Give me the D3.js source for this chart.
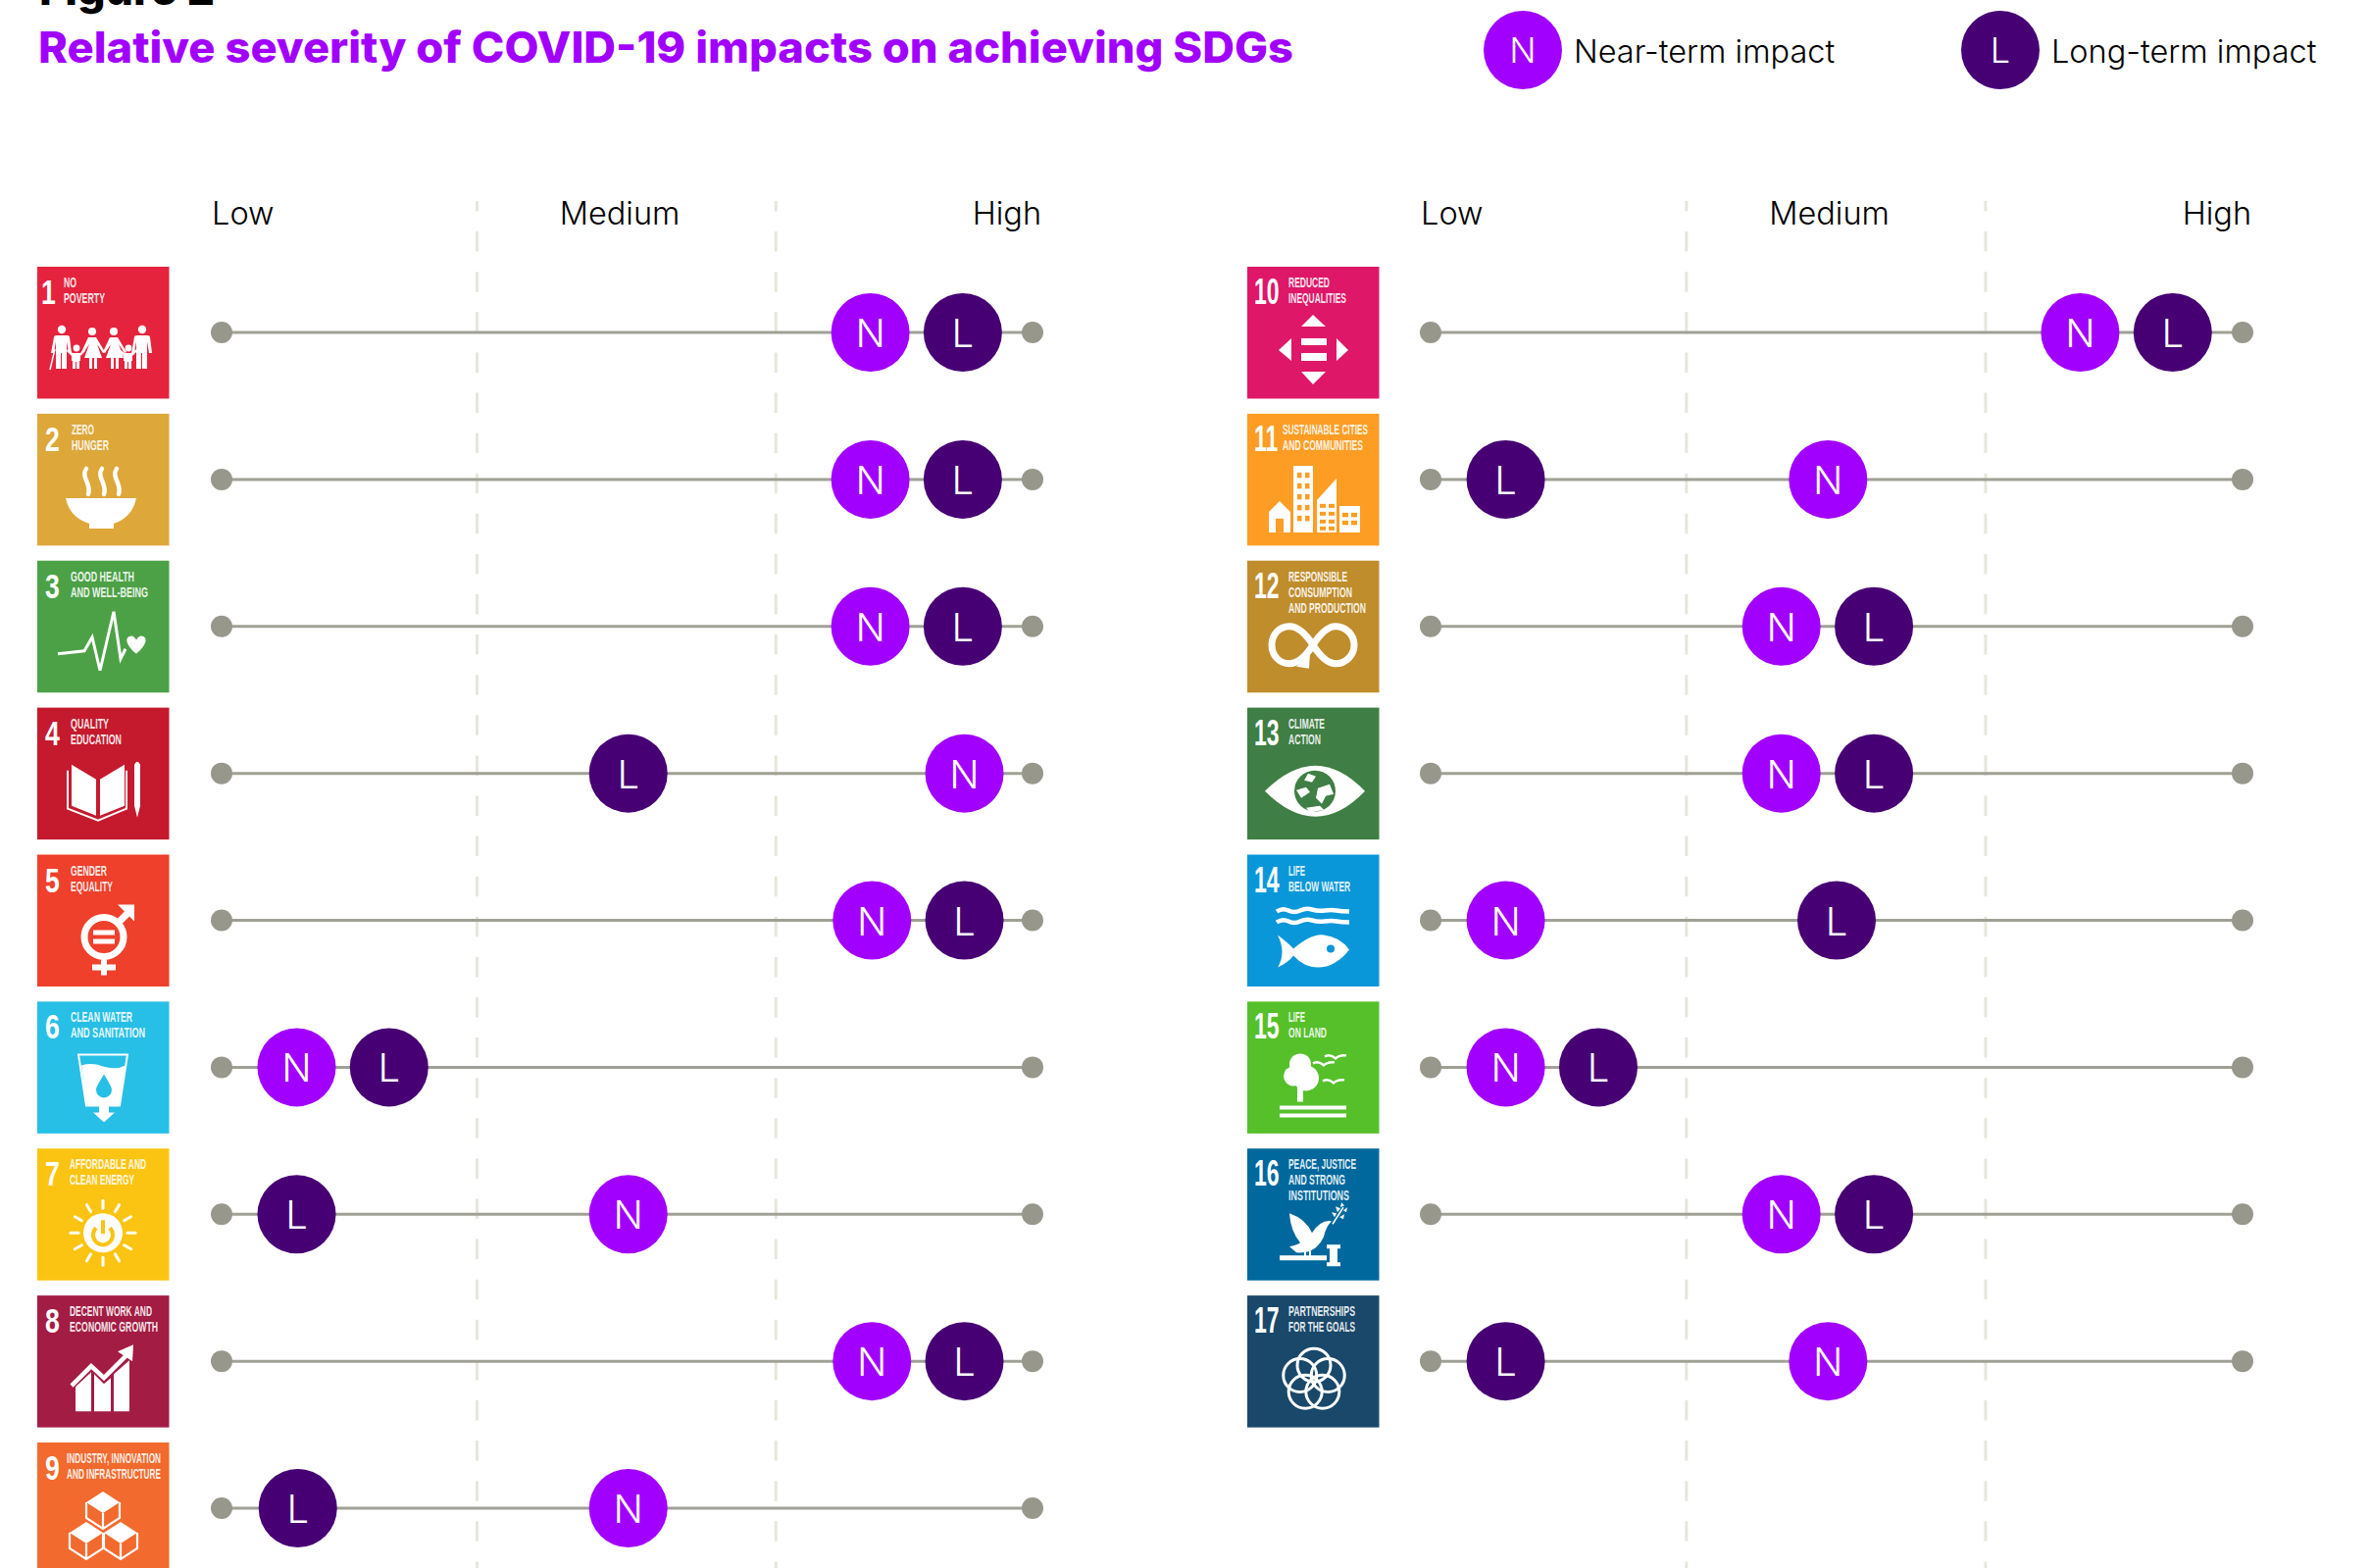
<!DOCTYPE html>
<html>
<head>
<meta charset="utf-8">
<script src="https://cdn.jsdelivr.net/npm/d3@7"></script>
<style>
  body { margin: 0; background: #fff; overflow: hidden; }
  text { font-family: Inter, "Noto Sans", sans-serif; }
  .tile text { font-family: "Liberation Sans Narrow", "Liberation Sans", sans-serif; font-weight: 700; fill: #fff; }
</style>
</head>
<body>
<svg></svg>
<script>
const width = 2418, height = 1599;

// Goals (0 = far left of the track, 100 = far right)
const goals = [1, 2, 3, 4, 5, 6, 7, 8, 9, 10, 11, 12, 13, 14, 15, 16, 17];
const nearTerm = [80, 80, 80, 91.6, 80.2, 9.25, 50.15, 80.2, 50.15, 80, 48.95, 43.2, 43.2, 9.25, 9.25, 43.2, 48.95];
const longTerm = [91.4, 91.4, 91.4, 50.15, 91.6, 20.65, 9.25, 91.6, 9.4, 91.4, 9.25, 54.6, 54.6, 50, 20.65, 54.6, 9.25];
const tileColors = ["#e5233d", "#dda73a", "#4ca146", "#c5192d", "#ef402c", "#27bfe6", "#fbc412", "#a31c44", "#f26a2d",
  "#de1768", "#fd9d24", "#bf8d2c", "#3f7e44", "#0a97d9", "#56c02b", "#00689d", "#19486a"];
const tileLabels = [
  ["NO", "POVERTY"], ["ZERO", "HUNGER"], ["GOOD HEALTH", "AND WELL-BEING"], ["QUALITY", "EDUCATION"],
  ["GENDER", "EQUALITY"], ["CLEAN WATER", "AND SANITATION"], ["AFFORDABLE AND", "CLEAN ENERGY"],
  ["DECENT WORK AND", "ECONOMIC GROWTH"], ["INDUSTRY, INNOVATION", "AND INFRASTRUCTURE"],
  ["REDUCED", "INEQUALITIES"], ["SUSTAINABLE CITIES", "AND COMMUNITIES"],
  ["RESPONSIBLE", "CONSUMPTION", "AND PRODUCTION"], ["CLIMATE", "ACTION"], ["LIFE", "BELOW WATER"],
  ["LIFE", "ON LAND"], ["PEACE, JUSTICE", "AND STRONG", "INSTITUTIONS"], ["PARTNERSHIPS", "FOR THE GOALS"]];
const labelWidths = [
  [13, 42], [23, 38], [65, 79], [39, 52], [37, 43], [63, 76], [78, 66], [84, 90], [96, 96],
  [42, 59], [87, 82], [60, 65, 79], [37, 33], [17, 63], [17, 39], [69, 58, 62], [68, 68]];
const labelStart = [27, 35, 34, 34, 34, 34, 33, 33, 30, 42, 36, 42, 42, 42, 42, 42, 42];
const levelLabels = ["Low", "Medium", "High"];
const levelAnchors = ["start", "middle", "end"];
const levelPositions = [-1.2, 49.1, 101.1];
const thresholds = [31.5, 68.35];
const legendItems = [
  { letter: "N", label: "Near-term impact", color: "#a100ff" },
  { letter: "L", label: "Long-term impact", color: "#460073" }];

const purple = "#a100ff", darkPurple = "#460073", grey = "#a0a095";

const svg = d3.select("svg").attr("width", width).attr("height", height);

// Both panels share the row positions
const rowScale = d3.scalePoint().domain(d3.range(9)).range([339, 1538]);
const panels = [
  { goals: goals.slice(0, 9), tileX: 38, x: d3.scaleLinear().domain([0, 100]).range([226, 1053]) },
  { goals: goals.slice(9), tileX: 1272, x: d3.scaleLinear().domain([0, 100]).range([1459, 2287]) }];

// Title block
svg.append("text").attr("x", 40).attr("y", 5).attr("font-size", 44).attr("font-weight", 800).attr("fill", "#000")
  .attr("textLength", 179).attr("lengthAdjust", "spacingAndGlyphs").text("Figure 2");
svg.append("text").attr("x", 39).attr("y", 64).attr("font-size", 44).attr("font-weight", 800).attr("fill", purple)
  .attr("textLength", 1280).attr("lengthAdjust", "spacingAndGlyphs")
  .text("Relative severity of COVID-19 impacts on achieving SDGs");

// Legend
const legendX = d3.scalePoint().domain(legendItems.map(d => d.letter)).range([1553, 2040]);
const legend = svg.append("g").selectAll("g").data(legendItems).join("g")
  .attr("transform", d => `translate(${legendX(d.letter)},51)`);
legend.append("circle").attr("r", 40).attr("fill", d => d.color);
legend.append("text").attr("text-anchor", "middle").attr("y", 13).attr("font-size", 36).attr("font-weight", 300)
  .attr("fill", "#fff").text(d => d.letter);
legend.append("text").attr("x", 52).attr("y", 13).attr("font-size", 32.5).attr("font-weight", 300)
  .attr("fill", "#000").text(d => d.label);

// ---- little helpers for the SDG pictograms, coordinates inside a 134px tile ----
const man = x => `<circle cx="${x}" cy="64" r="4.2"/><path d="M${x - 8} 72q0-2 3-2h10q3 0 3 2l2 16h-3l-2-12v28h-5v-16h-1v16h-5v-28l-2 12h-3z"/>`;
const woman = x => `<circle cx="${x}" cy="66" r="4"/><path d="M${x - 4} 72h8l9 15-2 1-6-9 5 14h-5v11h-3v-11h-2v11h-3v-11h-5l5-14-6 9-2-1z"/>`;
const child = x => `<circle cx="${x}" cy="83" r="3.4"/><path d="M${x - 4} 88h8l4-4 1 2-5 5v5h-1v8h-3v-7h-1v7h-3v-8h-1v-5l-5-5 1-2z"/>`;
const cube = (cx, top) => `<path d="M${cx} ${top}l17 11-17 11-17-11z"/><path fill="none" stroke="#fff" stroke-width="2.2" d="M${cx - 17} ${top + 11}v16l17 11 17-11v-16M${cx} ${top + 22}v16"/>`;
const windows = (xs, ys, w, h) => xs.map(x => ys.map(y => `<rect x="${x}" y="${y}" width="${w}" height="${h}" fill="currentColor"/>`).join("")).join("");
const rays = d3.range(12).map(i => {
  const a = i * Math.PI / 6;
  return `<path stroke="#fff" stroke-width="3" stroke-linecap="round" d="M${67 + 25 * Math.sin(a)} ${86 - 25 * Math.cos(a)}L${67 + 33 * Math.sin(a)} ${86 - 33 * Math.cos(a)}"/>`;
}).join("");
const rings = d3.range(5).map(i => {
  const a = i * 2 * Math.PI / 5;
  return `<circle cx="${68 + 15 * Math.sin(a)}" cy="${86 - 15 * Math.cos(a)}" r="17" fill="none" stroke="#fff" stroke-width="3"/>`;
}).join("");
const bird = (x, y) => `<path fill="none" stroke="#fff" stroke-width="2.4" d="M${x - 11} ${y}q6-3 11 2q4-4 11-3"/>`;

const pictograms = {
  1: man(25) + child(40) + woman(56) + woman(78) + child(93) + man(107) + '<path fill="none" stroke="#fff" stroke-width="1.5" d="M18 84l-5 21"/>',
  2: '<path d="M29 86H101Q97 106 78 112V117H53V112Q33 106 29 86Z"/><path fill="none" stroke="#fff" stroke-width="4.5" stroke-linecap="round" d="M50 56C44 65 56 72 52 82M66 56C60 65 72 72 68 82M81 56C75 65 87 72 83 82"/>',
  3: '<path fill="none" stroke="#fff" stroke-width="3" d="M21 95L48 92L56 78L64 112L78 52L85 100L90 90"/><path d="M101 95C90 86 89 78 95 77C98 76 100 79 101 81C102 79 104 76 107 77C113 78 112 86 101 95Z"/>',
  4: '<path d="M35 58L60 73V110L35 100Z M89 58L64 73V110L89 100Z M99 58q3-6 6 0V100L102 112L99 100Z"/><path fill="none" stroke="#fff" stroke-width="2" d="M31 64V103L62 115L91 103V64"/>',
  5: '<circle cx="68" cy="84" r="20" fill="none" stroke="#fff" stroke-width="7"/><path d="M57 77H79V82H57Z M57 86H79V91H57Z M65 107H71V112H80V118H71V123H65V118H56V112H65Z M82 51H99V68L94 63L84 73L79 68L89 58Z"/>',
  6: '<path d="M45 65Q56 62 67 66Q80 70 90 65L84 106H50Z"/><path fill="none" stroke="#fff" stroke-width="2" d="M42 54H92L84 106H50Z"/><path fill="currentColor" d="M68 74C62 84 60 87 60 90A8 8 0 0 0 76 90C76 87 74 84 68 74Z"/><path d="M63 106H73V113H79L68 123L57 113H63Z"/>',
  7: rays + '<circle cx="67" cy="86" r="20"/><path fill="none" stroke="currentColor" stroke-width="4" d="M60 81A10 10 0 1 0 74 81"/><path stroke="currentColor" stroke-width="4" d="M67 73V87"/>',
  8: '<path d="M39 118V93L55 78V118Z M58 118V80L68 90L75 84V118Z M78 118V80L94 66V118Z"/><path fill="none" stroke="#fff" stroke-width="4.5" d="M35 92L55 72L68 84L92 60"/><path d="M98 50L97 67L82 57Z"/>',
  9: cube(67, 50) + cube(50, 81) + cube(85, 81),
  10: '<path d="M67 49L80 61H55Z M67 120L80 107H55Z M32 85L45 73V96Z M103 85L91 73V96Z M55 73H81V80H55Z M55 88H81V96H55Z"/>',
  11: '<path d="M22 100L33 89L44 100V121H22Z M47 53H67V121H47Z M71 88L91 66V121H71Z M94 94H115V121H94Z"/>'
    + '<rect x="29" y="107" width="8" height="14" fill="currentColor"/>'
    + windows([51, 59], [60, 71, 82, 93, 104], 4.5, 5.5) + windows([74, 83], [92, 100, 108, 115], 6, 4) + windows([97, 106], [101, 109], 6, 4.5),
  12: '<path fill="none" stroke="#fff" stroke-width="7" d="M67 86C58 72 50 67 43 67C32 67 25 76 25 86C25 96 32 105 43 105C50 105 58 100 67 86C76 72 84 67 90 67C101 67 109 76 109 86C109 96 101 105 90 105C84 105 76 100 67 86"/><path d="M50 108L64 95L63 110Z"/>',
  13: '<path d="M18 85Q70 33 120 85Q70 137 18 85Z"/><circle cx="69" cy="85" r="21" fill="currentColor"/><path d="M62 67L70 70L66 76L58 74Z M50 84L60 81L64 86L55 92Z M72 82L84 78L88 88L80 90L76 98L70 92Z M60 102L74 100L78 104L64 107Z"/>',
  14: '<path fill="none" stroke="#fff" stroke-width="4.5" d="M30 58q6-4 12-1t12 0t12-1t13 1t12 0t13 1M30 69q6-4 12-1t12 0t12-1t13 1t12 0t13 1"/><path d="M31 82Q44 92 47 96Q66 80 78 82Q95 84 104 97Q90 115 72 115Q58 115 47 103Q42 110 31 115Q40 100 31 82Z"/><circle cx="85" cy="96" r="4" fill="currentColor"/>',
  15: '<circle cx="54" cy="64" r="11"/><circle cx="47" cy="76" r="10"/><circle cx="60" cy="78" r="13"/><path d="M51 85H57V102H51Z M33 106H101V110H33Z M33 114H101V118H33Z"/>' + bird(78, 63) + bird(90, 56) + bird(88, 81),
  16: '<path d="M43 66Q60 72 66 86Q75 72 86 74Q80 80 78 90Q70 108 50 106L43 100Q52 98 54 96Q44 84 43 66Z"/><path fill="none" stroke="#fff" stroke-width="1.5" d="M87 77L98 60"/><path d="M89 70l-3-5 5 1z M92 65l-2-6 5 2z M95 60l1-5 3 3z M94 70l5-3-1 5z M98 63l4-3-1 5z"/><path d="M58 104H60V110H58Z M63 104H65V110H63Z M33 109H81V114H33Z M81 98H95V102H81Z M84 102H92V116H84Z M81 116H95V120H81Z"/>',
  17: rings
};

// ---- draw both panels ----
panels.forEach(panel => {
  const x = panel.x;
  const rows = panel.goals.map((goal, i) => ({
    goal, row: i, near: nearTerm[goal - 1], long: longTerm[goal - 1]
  }));

  // column headers
  svg.append("g").selectAll("text").data(levelLabels).join("text")
    .attr("x", (d, i) => x(levelPositions[i]))
    .attr("y", 229)
    .attr("text-anchor", (d, i) => levelAnchors[i])
    .attr("font-size", 32.5)
    .attr("font-weight", 300)
    .attr("fill", "#000")
    .text(d => d);

  // dashed separators run off the bottom of the page
  svg.append("g").selectAll("line").data(thresholds).join("line")
    .attr("x1", d => x(d)).attr("x2", d => x(d))
    .attr("y1", 205).attr("y2", height)
    .attr("stroke", "#e6e6dc")
    .attr("stroke-width", 3)
    .attr("stroke-dasharray", "20.5 20.6")
    .attr("stroke-dashoffset", 10);

  // tiles
  const tile = svg.append("g").selectAll("g").data(rows).join("g")
    .attr("class", "tile")
    .attr("transform", d => `translate(${panel.tileX},${rowScale(d.row) - 67})`)
    .style("color", d => tileColors[d.goal - 1]);
  tile.append("rect")
    .attr("width", 134.5).attr("height", 134.5)
    .attr("fill", d => tileColors[d.goal - 1]);
  // numbers are squeezed sideways, the tile lettering is very condensed
  tile.append("text")
    .attr("transform", d => d.goal > 9 ? "translate(7,38) scale(0.64,1)" : `translate(${d.goal === 1 ? 4 : 8},38) scale(0.74,1)`)
    .attr("font-size", 36)
    .text(d => d.goal);
  tile.each(function (d) {
    d3.select(this).selectAll("text.line").data(tileLabels[d.goal - 1]).join("text")
      .attr("class", "line")
      .attr("x", labelStart[d.goal - 1])
      .attr("y", (t, i) => 21 + i * 16)
      .attr("font-size", 14)
      .attr("textLength", (t, i) => labelWidths[d.goal - 1][i])
      .attr("lengthAdjust", "spacingAndGlyphs")
      .attr("fill-opacity", 0.9)
      .text(t => t);
  });
  tile.append("g").attr("fill", "#fff").html(d => pictograms[d.goal]);

  // tracks with end dots
  const track = svg.append("g").selectAll("g").data(rows).join("g")
    .attr("transform", d => `translate(0,${rowScale(d.row)})`);
  track.append("line")
    .attr("x1", x(0)).attr("x2", x(100))
    .attr("stroke", grey).attr("stroke-width", 3);
  track.selectAll("circle.end").data([0, 100]).join("circle")
    .attr("class", "end")
    .attr("cx", d => x(d))
    .attr("r", 11)
    .attr("fill", "#97978c");

  // N and L markers
  [["near", "N", purple], ["long", "L", darkPurple]].forEach(([key, letter, color]) => {
    track.append("circle")
      .attr("cx", d => x(d[key]))
      .attr("r", 40)
      .attr("fill", color);
    track.append("text")
      .attr("x", d => x(d[key]))
      .attr("y", 15)
      .attr("text-anchor", "middle")
      .attr("font-size", 40)
      .attr("font-weight", 300)
      .attr("fill", "#fff")
      .text(letter);
  });
});
</script>
</body>
</html>
